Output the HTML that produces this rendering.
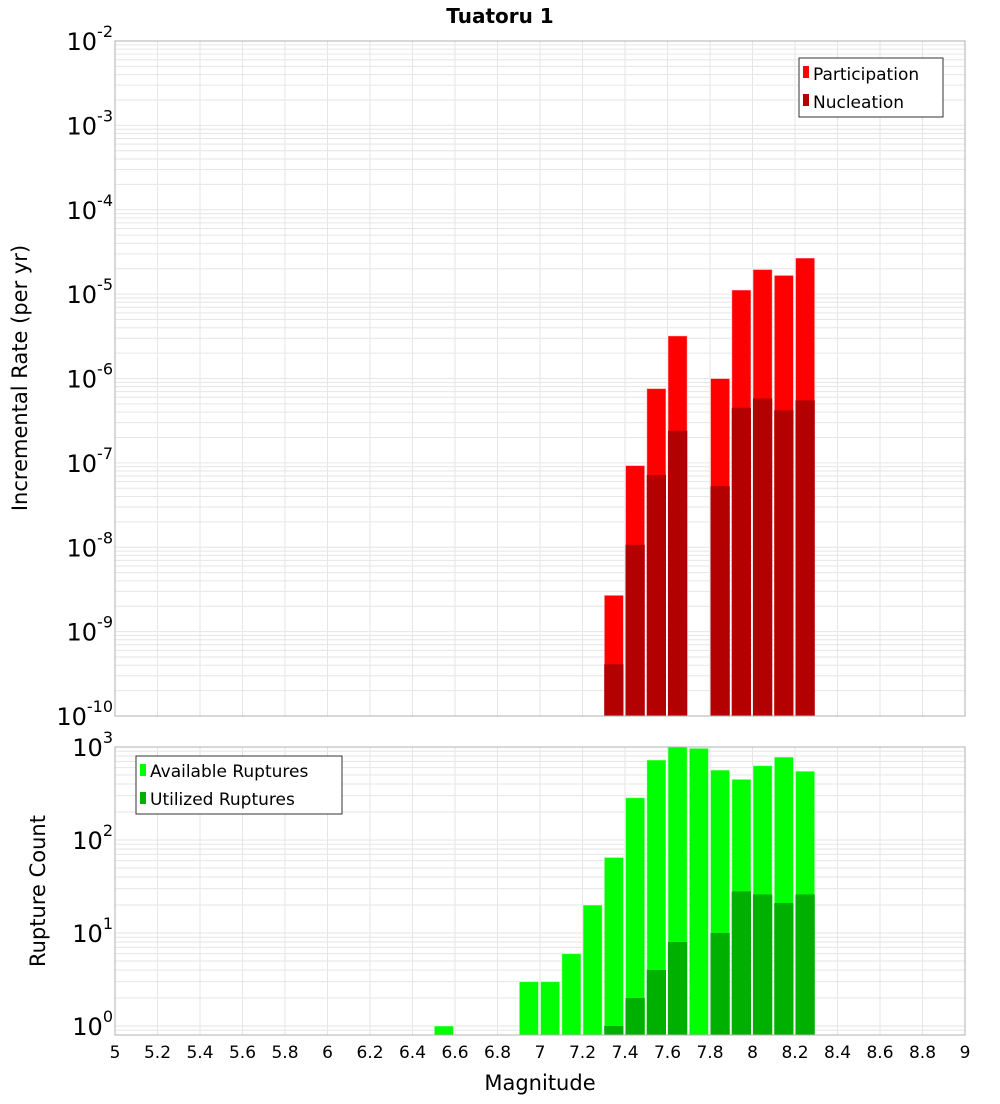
<!DOCTYPE html>
<html><head><meta charset="utf-8"><style>
body{margin:0;background:#fff;font-family:"DejaVu Sans","Liberation Sans",sans-serif}
svg text{font-family:"DejaVu Sans","Liberation Sans",sans-serif}
</style></head><body>
<svg id="chart" width="1000" height="1100" xmlns="http://www.w3.org/2000/svg">
<text x="500" y="23" text-anchor="middle" font-size="20" font-weight="bold">Tuatoru 1</text>
<g id="top"></g>
<g id="bot"></g>
<text transform="translate(27,378) rotate(-90)" text-anchor="middle" font-size="21">Incremental Rate (per yr)</text>
<text transform="translate(45,891) rotate(-90)" text-anchor="middle" font-size="21">Rupture Count</text>
<text x="540" y="1090" text-anchor="middle" font-size="21">Magnitude</text>
<g>
<rect x="799" y="58" width="144" height="59" fill="#fff" stroke="#333"/>
<rect x="803" y="66" width="6" height="12" fill="#ff0000"/><text x="813" y="80" font-size="17">Participation</text>
<rect x="803" y="94" width="6" height="12" fill="#b30000"/><text x="813" y="108" font-size="17">Nucleation</text>
</g>
<g>
<rect x="136" y="756" width="206" height="58" fill="#fff" stroke="#333"/>
<rect x="140" y="764" width="6" height="12" fill="#00ff00"/><text x="150" y="777" font-size="17">Available Ruptures</text>
<rect x="140" y="792" width="6" height="12" fill="#00b000"/><text x="150" y="805" font-size="17">Utilized Ruptures</text>
</g>
</svg>
<script>
const mags=[6.55,6.95,7.05,7.15,7.25,7.35,7.45,7.55,7.65,7.75,7.85,7.95,8.05,8.15,8.25];
const participation=[0,0,0,0,0,2.7e-9,9.3e-8,7.6e-7,3.2e-6,0,1.0e-6,1.12e-5,1.96e-5,1.67e-5,2.68e-5];
const nucleation=[0,0,0,0,0,4.1e-10,1.07e-8,7.2e-8,2.4e-7,0,5.3e-8,4.5e-7,5.8e-7,4.2e-7,5.5e-7];
const available=[1,3,3,6,20,65,285,725,1000,970,565,450,630,780,550];
const utilized=[0,0,0,0,0,1,2,4,8,0,10,28,26,21,26];
const xTicks=[5,5.2,5.4,5.6,5.8,6,6.2,6.4,6.6,6.8,7,7.2,7.4,7.6,7.8,8,8.2,8.4,8.6,8.8,9];
const rateExps=[-10,-9,-8,-7,-6,-5,-4,-3,-2];
const countExps=[0,1,2,3];
const NS="http://www.w3.org/2000/svg";
const L=115,R=965;
const xs=m=>L+(m-5)/4*(R-L);
function mk(tag,at,p){const e=document.createElementNS(NS,tag);for(const k in at)e.setAttribute(k,at[k]);p.appendChild(e);return e;}
function panel(g,top,bot,lmin,lmax,exps,series,colors,name){
  const ys=v=>bot-(Math.log10(v)-lmin)/(lmax-lmin)*(bot-top);
  // grid
  for(let d=Math.floor(lmin);d<lmax;d++)for(let k=1;k<10;k++){const v=k*Math.pow(10,d);const lv=Math.log10(v);if(lv<lmin||lv>lmax)continue;const y=ys(v);
    const l=mk('line',{x1:L,x2:R,y1:y,y2:y,stroke:'#e6e6e6','stroke-width':1},g);
    
    }
  xTicks.forEach(t=>{const x=xs(t);const l=mk('line',{x1:x,x2:x,y1:top,y2:bot,stroke:'#e6e6e6','stroke-width':1},g);
    
    });
  series.forEach((s,si)=>{s.forEach((v,i)=>{if(!v)return;const x0=xs(mags[i]-0.05)+0.5,x1=xs(mags[i]+0.05)-1.5;let y=Math.max(ys(v),top);
    const r=mk('rect',{x:x0,y:y,width:x1-x0,height:bot-y,fill:colors[si],stroke:si?'none':'rgba(255,255,255,0.5)','stroke-width':1},g);
    
    });});
  const b=mk('rect',{x:L,y:top,width:R-L,height:bot-top,fill:'none',stroke:'#b0b0b0','stroke-width':1},g);
  
  
  exps.forEach(e=>{const y=ys(Math.pow(10,e));const t=mk('text',{x:113,y:y+9,'text-anchor':'end','font-size':24},g);
    
    
    const a=document.createElementNS(NS,'tspan');a.textContent='10';t.appendChild(a);
    const s=document.createElementNS(NS,'tspan');s.setAttribute('font-size','16');s.setAttribute('dy','-13');s.textContent=String(e);t.appendChild(s);});
}
panel(document.getElementById('top'),41,716,-10,-2,rateExps,[participation,nucleation],['#ff0000','#b30000'],'rate');
panel(document.getElementById('bot'),747,1035,-0.097,3,countExps,[available,utilized],['#00ff00','#00b000'],'count');
const sv=document.getElementById('chart');
xTicks.forEach(t=>{const e=mk('text',{x:xs(t),y:1058,'text-anchor':'middle','font-size':17},sv);e.textContent=String(t);
  
  });
</script>
</body></html>
